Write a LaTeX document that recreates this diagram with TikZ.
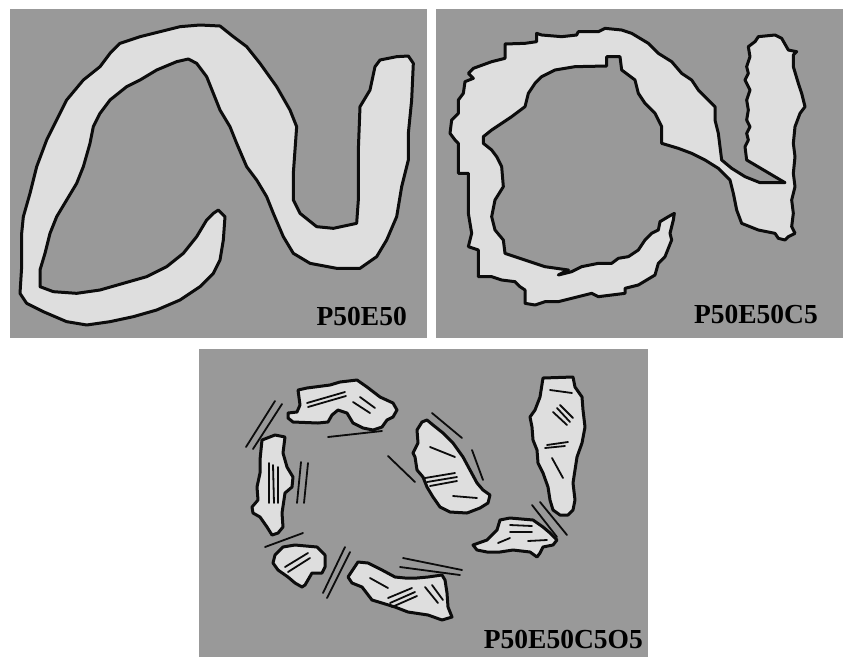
\documentclass[tikz,border=0pt]{standalone}
\usepackage{fontspec}
\setmainfont{Liberation Serif}
\definecolor{figpanel}{RGB}{153,153,153}
\definecolor{figgrain}{RGB}{222,222,222}
\definecolor{figline}{RGB}{12,12,12}
\tikzset{
  pnl/.style   ={fill=figpanel},
  grain/.style ={draw=figline, fill=figgrain, line width=3pt, line join=round},
  crk/.style   ={draw=figline, line width=1.8pt, line cap=round},
  tag/.style   ={font=\fontsize{27.5}{28}\selectfont\bfseries, inner sep=0pt, anchor=base east},
}
\begin{document}
\begin{tikzpicture}[x=1pt,y=-1pt]
  \useasboundingbox (0,0) rectangle (845,657);
  % panels
  \fill[pnl] (10,9) rectangle (427,338);
  \fill[pnl] (436,9) rectangle (843,338);
  \fill[pnl] (199,349) rectangle (648,657);
  % P50E50
  \begin{scope}[scale=1/3]
  \draw[grain] (655,630) -- (675,650) -- (670,720) -- (660,780) -- (640,820) -- (600,860)
    -- (540,900) -- (470,930) -- (400,950) -- (330,965) -- (260,975) -- (200,965)
    -- (130,935) -- (80,910) -- (60,880) -- (65,800) -- (65,700) -- (70,650) -- (90,580)
    -- (110,500) -- (140,420) -- (170,360) -- (200,300) -- (250,240) -- (300,200)
    -- (330,160) -- (360,130) -- (420,110) -- (480,95) -- (540,80) -- (600,75) -- (660,78)
    -- (700,110) -- (740,140) -- (780,190) -- (830,260) -- (870,330) -- (890,380)
    -- (885,450) -- (880,520) -- (880,600) -- (900,640) -- (950,680) -- (1000,685)
    -- (1070,670) -- (1075,600) -- (1075,450) -- (1080,320) -- (1110,270) -- (1125,200)
    -- (1140,180) -- (1190,170) -- (1225,168) -- (1240,190) -- (1235,300) -- (1225,400)
    -- (1225,480) -- (1205,560) -- (1190,650) -- (1160,720) -- (1130,770) -- (1080,805)
    -- (1010,805) -- (930,790) -- (880,760) -- (850,710) -- (820,640) -- (800,590)
    -- (770,540) -- (740,500) -- (710,430) -- (690,380) -- (660,330) -- (640,280)
    -- (620,230) -- (590,190) -- (565,177) -- (530,185) -- (470,210) -- (420,240)
    -- (380,260) -- (330,300) -- (300,340) -- (280,380) -- (270,430) -- (250,500)
    -- (230,550) -- (200,600) -- (170,650) -- (150,700) -- (135,760) -- (120,810)
    -- (120,860) -- (160,875) -- (230,880) -- (300,870) -- (370,850) -- (440,830)
    -- (500,800) -- (550,760) -- (590,710) -- (620,660) -- (640,640) -- cycle;
  \end{scope}
  \node[tag] (lbla) at (407,325) {P50E50};
  % P50E50C5
  \begin{scope}[shift={(425,0)},scale=1/3]
  \draw[grain] (710,430) -- (760,445) -- (800,460) -- (840,480) -- (880,505) -- (915,540)
    -- (925,580) -- (935,630) -- (950,670) -- (1000,690) -- (1050,700) -- (1060,715)
    -- (1080,720) -- (1090,710) -- (1110,700) -- (1100,680) -- (1105,640) -- (1100,600)
    -- (1110,560) -- (1105,520) -- (1110,470) -- (1105,430) -- (1110,380) -- (1125,340)
    -- (1140,320) -- (1130,280) -- (1120,250) -- (1105,200) -- (1105,165) -- (1115,155)
    -- (1090,150) -- (1070,115) -- (1050,105) -- (1000,110) -- (990,125) -- (970,140)
    -- (975,170) -- (965,200) -- (970,220) -- (960,240) -- (975,270) -- (965,300)
    -- (970,330) -- (965,360) -- (975,380) -- (965,400) -- (970,420) -- (960,440)
    -- (965,480) -- (1080,548) -- (1005,548) -- (960,530) -- (920,505) -- (890,480)
    -- (885,440) -- (880,400) -- (870,360) -- (870,320) -- (850,300) -- (820,270)
    -- (800,240) -- (770,220) -- (740,185) -- (700,160) -- (670,130) -- (620,100)
    -- (590,90) -- (540,85) -- (520,95) -- (460,95) -- (455,105) -- (410,110) -- (350,105)
    -- (335,100) -- (335,125) -- (300,130) -- (240,132) -- (240,175) -- (200,185)
    -- (145,205) -- (130,220) -- (145,235) -- (120,245) -- (115,280) -- (100,300)
    -- (100,340) -- (80,360) -- (75,400) -- (90,420) -- (100,430) -- (100,520)
    -- (130,520) -- (130,560) -- (130,640) -- (140,700) -- (130,740) -- (160,750)
    -- (160,830) -- (200,830) -- (230,840) -- (270,845) -- (285,860) -- (300,870)
    -- (300,910) -- (330,915) -- (360,905) -- (400,905) -- (440,895) -- (500,880)
    -- (520,890) -- (600,880) -- (600,865) -- (640,855) -- (690,825) -- (700,790)
    -- (720,770) -- (740,720) -- (735,700) -- (745,660) -- (748,640) -- (730,650)
    -- (705,665) -- (700,690) -- (680,700) -- (660,720) -- (640,750) -- (610,770)
    -- (580,775) -- (560,790) -- (520,790) -- (470,800) -- (440,815) -- (400,825)
    -- (430,810) -- (360,800) -- (300,780) -- (240,760) -- (235,720) -- (210,690)
    -- (200,650) -- (210,600) -- (235,560) -- (230,500) -- (215,470) -- (200,450)
    -- (175,430) -- (175,410) -- (200,390) -- (230,370) -- (260,350) -- (300,320)
    -- (310,280) -- (330,250) -- (350,230) -- (390,210) -- (450,200) -- (545,198)
    -- (545,170) -- (585,170) -- (590,210) -- (610,225) -- (630,240) -- (640,280)
    -- (660,310) -- (690,340) -- (710,380) -- cycle;
  \end{scope}
  \node[tag] (lblb) at (818,323) {P50E50C5};
  % P50E50C5O5: fragments
  \draw[grain] (298,390) -- (307,388) -- (330,385) -- (340,382) -- (357,380) -- (367,387)
    -- (380,397) -- (393,403) -- (397,410) -- (393,417) -- (387,420) -- (382,427)
    -- (373,430) -- (363,428) -- (353,423) -- (347,413) -- (338,410) -- (332,415)
    -- (328,422) -- (318,423) -- (293,422) -- (288,418) -- (288,413) -- (297,412)
    -- (300,405) -- cycle;
  \draw[grain] (262,440) -- (275,435) -- (285,437) -- (283,453) -- (287,467) -- (293,477)
    -- (292,487) -- (285,493) -- (282,513) -- (283,527) -- (278,533) -- (272,535)
    -- (267,527) -- (260,517) -- (253,513) -- (252,507) -- (258,500) -- (257,487)
    -- (260,473) -- (260,460) -- cycle;
  \draw[grain] (275,555) -- (283,547) -- (295,545) -- (317,547) -- (325,555) -- (325,567)
    -- (322,573) -- (312,573) -- (305,585) -- (302,587) -- (295,583) -- (288,577)
    -- (278,570) -- (273,563) -- cycle;
  \draw[grain] (348,577) -- (358,562) -- (368,563) -- (382,570) -- (395,577) -- (405,578)
    -- (417,578) -- (428,577) -- (442,575) -- (445,580) -- (447,593) -- (448,607)
    -- (452,617) -- (442,620) -- (428,615) -- (408,612) -- (395,607) -- (382,603)
    -- (372,600) -- (362,587) -- (352,583) -- cycle;
  \draw[grain] (422,422) -- (427,420) -- (433,425) -- (443,433) -- (453,443) -- (463,457)
    -- (470,470) -- (477,483) -- (483,490) -- (490,495) -- (488,503) -- (480,508)
    -- (467,513) -- (450,512) -- (440,507) -- (433,497) -- (427,487) -- (423,477)
    -- (417,470) -- (415,457) -- (413,453) -- (418,443) -- (417,430) -- cycle;
  \draw[grain] (543,378) -- (573,377) -- (575,387) -- (582,397) -- (583,410) -- (585,427)
    -- (582,443) -- (577,457) -- (575,470) -- (573,483) -- (575,500) -- (573,510)
    -- (568,515) -- (560,515) -- (553,510) -- (550,500) -- (548,487) -- (543,473)
    -- (538,463) -- (537,450) -- (533,440) -- (532,427) -- (530,417) -- (535,410)
    -- (540,397) -- cycle;
  \draw[grain] (473,545) -- (487,540) -- (497,530) -- (500,520) -- (510,518) -- (533,520)
    -- (543,527) -- (550,533) -- (557,540) -- (553,545) -- (543,547) -- (540,553)
    -- (537,557) -- (530,552) -- (513,550) -- (500,552) -- (487,552) -- (477,550) -- cycle;
  % P50E50C5O5: cracks
  \draw[crk] (307,403) -- (345,392);
  \draw[crk] (308,407) -- (346,396);
  \draw[crk] (353,402) -- (370,413);
  \draw[crk] (360,397) -- (375,408);
  \draw[crk] (328,437) -- (382,431);
  \draw[crk] (246,447) -- (275,401);
  \draw[crk] (253,449) -- (282,404);
  \draw[crk] (269,463) -- (269,503);
  \draw[crk] (273,465) -- (274,503);
  \draw[crk] (278,467) -- (278,503);
  \draw[crk] (301,462) -- (297,503);
  \draw[crk] (308,463) -- (304,503);
  \draw[crk] (265,547) -- (303,533);
  \draw[crk] (285,567) -- (308,553);
  \draw[crk] (288,572) -- (310,558);
  \draw[crk] (323,593) -- (345,547);
  \draw[crk] (327,598) -- (350,552);
  \draw[crk] (370,578) -- (388,588);
  \draw[crk] (388,598) -- (412,588);
  \draw[crk] (390,603) -- (415,592);
  \draw[crk] (392,607) -- (417,596);
  \draw[crk] (425,587) -- (438,603);
  \draw[crk] (432,585) -- (443,600);
  \draw[crk] (403,558) -- (462,570);
  \draw[crk] (400,567) -- (460,575);
  \draw[crk] (430,447) -- (455,457);
  \draw[crk] (425,478) -- (455,473);
  \draw[crk] (427,482) -- (457,477);
  \draw[crk] (430,486) -- (457,481);
  \draw[crk] (453,496) -- (477,498);
  \draw[crk] (432,413) -- (462,438);
  \draw[crk] (472,450) -- (483,480);
  \draw[crk] (388,456) -- (415,482);
  \draw[crk] (550,390) -- (572,393);
  \draw[crk] (553,412) -- (567,425);
  \draw[crk] (557,408) -- (570,422);
  \draw[crk] (560,405) -- (573,418);
  \draw[crk] (547,445) -- (568,442);
  \draw[crk] (545,448) -- (565,446);
  \draw[crk] (552,458) -- (563,478);
  \draw[crk] (510,525) -- (532,526);
  \draw[crk] (510,532) -- (532,532);
  \draw[crk] (498,543) -- (510,538);
  \draw[crk] (528,541) -- (547,540);
  \draw[crk] (532,505) -- (557,537);
  \draw[crk] (540,502) -- (567,535);
  \node[tag] (lblc) at (643,648) {P50E50C5O5};
\end{tikzpicture}
\end{document}
